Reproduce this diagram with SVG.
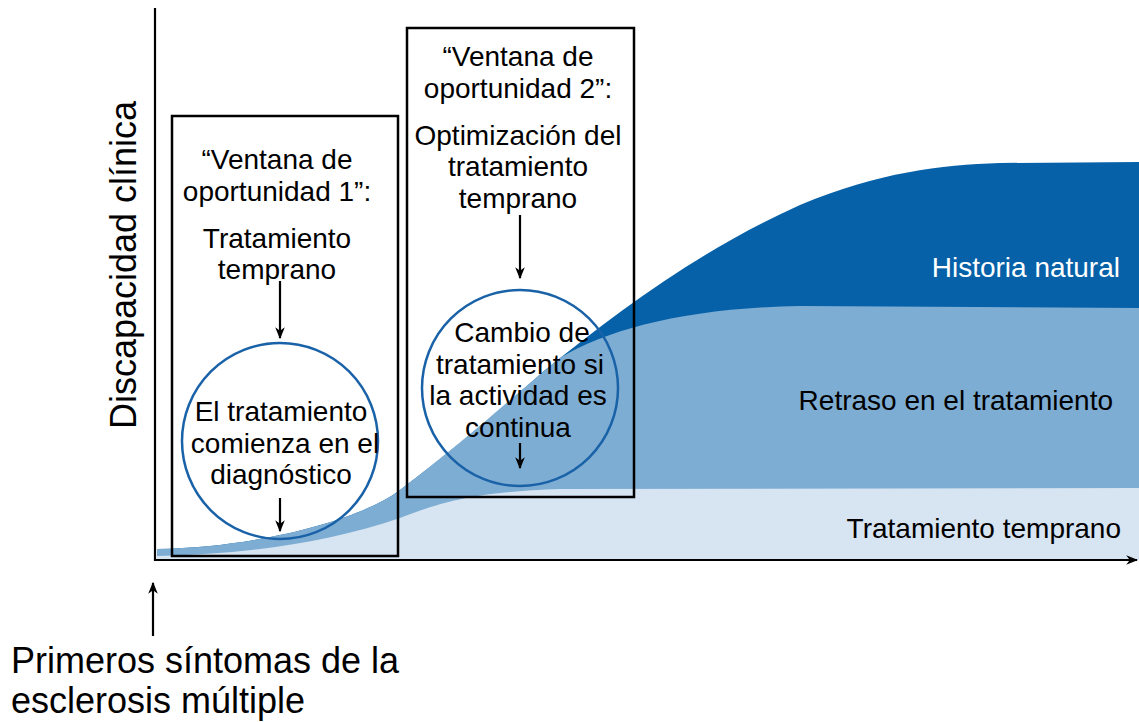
<svg xmlns="http://www.w3.org/2000/svg" width="1139" height="722" viewBox="0 0 1139 722">
<style>
.t{font-family:"Liberation Sans",Arial,sans-serif;font-size:28px;fill:#000;text-anchor:middle}
.lab{font-family:"Liberation Sans",Arial,sans-serif;font-size:28px;text-anchor:end}
.box{fill:none;stroke:#000;stroke-width:2.5}
.circ{fill:none;stroke:#1a62a8;stroke-width:2.5}
.ln{stroke:#000;stroke-width:2.2;fill:none}
</style>
<defs>
<marker id="ah" viewBox="0 0 10 10" refX="9" refY="5" markerWidth="12" markerHeight="12" orient="auto" markerUnits="userSpaceOnUse">
<path d="M0,1 L10,5 L0,9 L3,5 Z" fill="#000"/>
</marker>
</defs>
<rect width="1139" height="722" fill="#fff"/>
<g id="areas">
<path d="M157,549 C260,547 360,520 400,490 C460,445 500,410 545,370 C620,310 700,250 800,205 C880,172 940,165 1000,163 L1139,162 L1139,560 L157,560 Z" fill="#0661a8"/>
<path d="M157,549 C260,547 360,520 400,490 C470,437 520,390 560,358 C610,328 690,308 800,306 L1139,308 L1139,560 L157,560 Z" fill="#7eadd3"/>
<path d="M157,556 C250,554 330,542 400,518 C440,503 470,492 560,489 L1139,488 L1139,560 L157,560 Z" fill="#d7e4f1"/>
</g>
<g id="axes">
<line class="ln" x1="155" y1="8" x2="155" y2="561" stroke-width="2.5"/>
<line class="ln" x1="154" y1="560" x2="1137" y2="560" stroke-width="2.5" marker-end="url(#ah)"/>
</g>
<g id="ylabel">
<text class="t" transform="translate(136,265) rotate(-90)" style="font-size:36px">Discapacidad clínica</text>
</g>
<g id="window1">
<rect class="box" x="172" y="116" width="226" height="440"/>
<text class="t" x="277" y="169">“Ventana de</text>
<text class="t" x="277" y="201">oportunidad 1”:</text>
<text class="t" x="277" y="248">Tratamiento</text>
<text class="t" x="277" y="279">temprano</text>
</g>
<g id="circle1">
<circle class="circ" cx="280" cy="441" r="98"/>
<text class="t" x="281" y="421">El tratamiento</text>
<text class="t" x="285" y="453">comienza en el</text>
<text class="t" x="281" y="484">diagnóstico</text>
</g>
<g id="window2">
<rect class="box" x="407" y="28" width="227" height="469"/>
<text class="t" x="518" y="66">“Ventana de</text>
<text class="t" x="518" y="98">oportunidad 2”:</text>
<text class="t" x="518" y="145">Optimización del</text>
<text class="t" x="518" y="176">tratamiento</text>
<text class="t" x="518" y="208">temprano</text>
</g>
<g id="circle2">
<circle class="circ" cx="520" cy="388" r="98"/>
<text class="t" x="522" y="342">Cambio de</text>
<text class="t" x="520" y="374">tratamiento si</text>
<text class="t" x="518" y="405">la actividad es</text>
<text class="t" x="518" y="437">continua</text>
</g>
<g id="connectors">
<line class="ln" x1="280" y1="281" x2="280" y2="338" marker-end="url(#ah)"/>
<line class="ln" x1="280" y1="498" x2="280" y2="531" marker-end="url(#ah)"/>
<line class="ln" x1="520" y1="215" x2="520" y2="278" marker-end="url(#ah)"/>
<line class="ln" x1="520" y1="443" x2="520" y2="468" marker-end="url(#ah)"/>
<line class="ln" x1="153" y1="636" x2="153" y2="583" marker-end="url(#ah)"/>
</g>
<g id="labels">
<text class="lab" x="1120" y="277" fill="#fff">Historia natural</text>
<text class="lab" x="1113" y="410" fill="#000">Retraso en el tratamiento</text>
<text class="lab" x="1121" y="538" fill="#000">Tratamiento temprano</text>
</g>
<g id="onset">
<text x="11" y="673" font-family="Liberation Sans, Arial, sans-serif" font-size="36">Primeros síntomas de la</text>
<text x="11" y="713" font-family="Liberation Sans, Arial, sans-serif" font-size="36">esclerosis múltiple</text>
</g>
</svg>
